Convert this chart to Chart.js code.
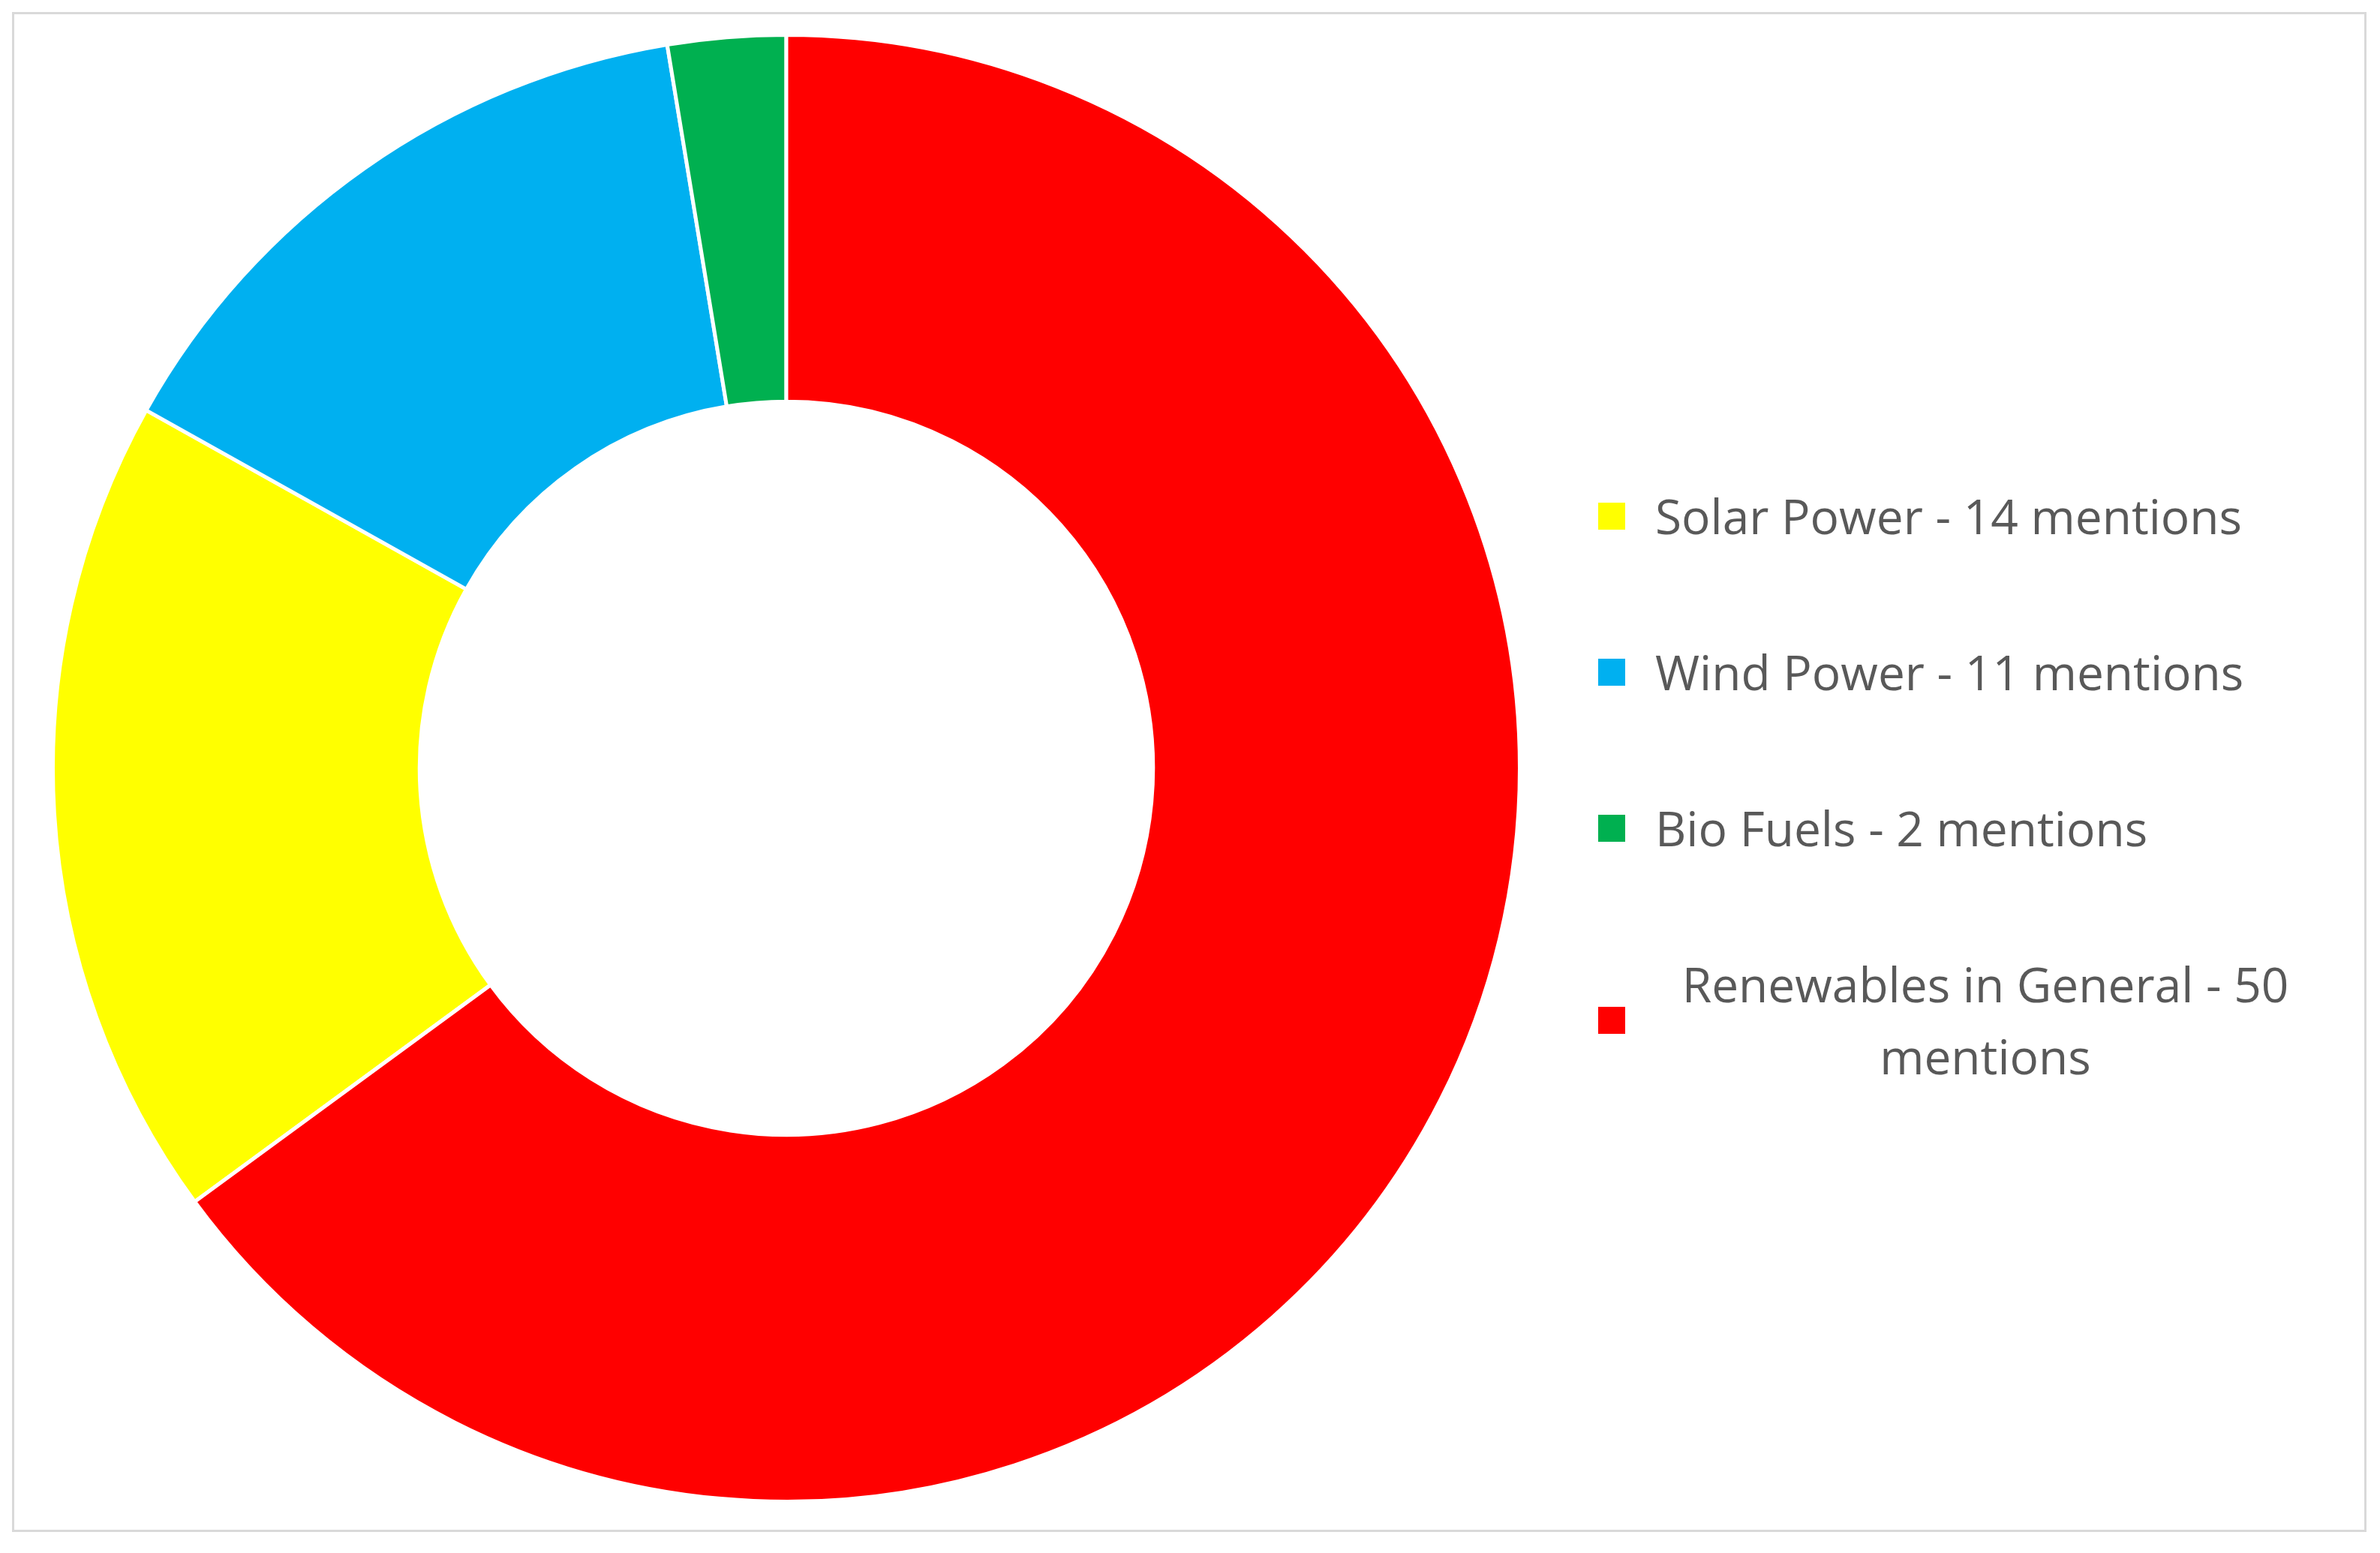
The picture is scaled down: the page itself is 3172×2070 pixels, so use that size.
<!DOCTYPE html>
<html>
<head>
<meta charset="utf-8">
<script src="https://cdn.jsdelivr.net/npm/chart.js@4.4.1/dist/chart.umd.min.js"></script>
<style>
  html, body { margin: 0; padding: 0; background: #fff; }
  body { width: 3172px; height: 2070px; position: relative; overflow: hidden; font-family: "Open Sans", sans-serif; }
  .frame { position: absolute; left: 16px; top: 16px; width: 3138px; height: 2026px; border: 3px solid #d9d9d9; box-sizing: border-box; }
  .chart-box { position: absolute; left: 68px; top: 44px; width: 1960px; height: 1960px; }
  #legend { position: absolute; left: 2130px; top: 640px; width: 1000px; color: #595959; font-size: 64px; }
  .item { display: flex; align-items: center; margin-bottom: 112px; line-height: 96px; }
  .swatch { width: 36px; height: 36px; margin-right: 40px; flex: none; }
  .txt { text-align: center; }
</style>
</head>
<body>
<div class="frame"></div>
<div class="chart-box"><canvas id="donutChart"></canvas></div>
<div id="legend"></div>
<script>
// Data
const categories = ['Solar Power', 'Wind Power', 'Bio Fuels', 'Renewables in General'];
const mentions = [14, 11, 2, 50];
const colors = ['#ffff00', '#00b0f0', '#00b050', '#ff0000'];

const total = mentions.reduce((a, b) => a + b, 0);

new Chart(document.getElementById('donutChart').getContext('2d'), {
  type: 'doughnut',
  data: {
    labels: categories,
    datasets: [
      {
        data: mentions,
        backgroundColor: colors,
        borderColor: '#fff',
        borderWidth: 5,
      },
    ],
  },
  options: {
    responsive: true,
    maintainAspectRatio: false,
    animation: false,
    cutout: '50%',
    // Renewables slice starts at 12 o'clock, others follow it
    rotation: (360 * mentions[3]) / total,
    plugins: {
      legend: { display: false },
      tooltip: { enabled: false },
    },
  },
});

// Legend
const legend = document.getElementById('legend');
categories.forEach((name, i) => {
  const row = document.createElement('div');
  row.className = 'item';
  const sw = document.createElement('div');
  sw.className = 'swatch';
  sw.style.background = colors[i];
  const t = document.createElement('div');
  t.className = 'txt';
  t.textContent = name + ' - ' + mentions[i] + ' mentions';
  if (i === 3) t.style.width = '880px';
  row.appendChild(sw);
  row.appendChild(t);
  legend.appendChild(row);
});
</script>
</body>
</html>
